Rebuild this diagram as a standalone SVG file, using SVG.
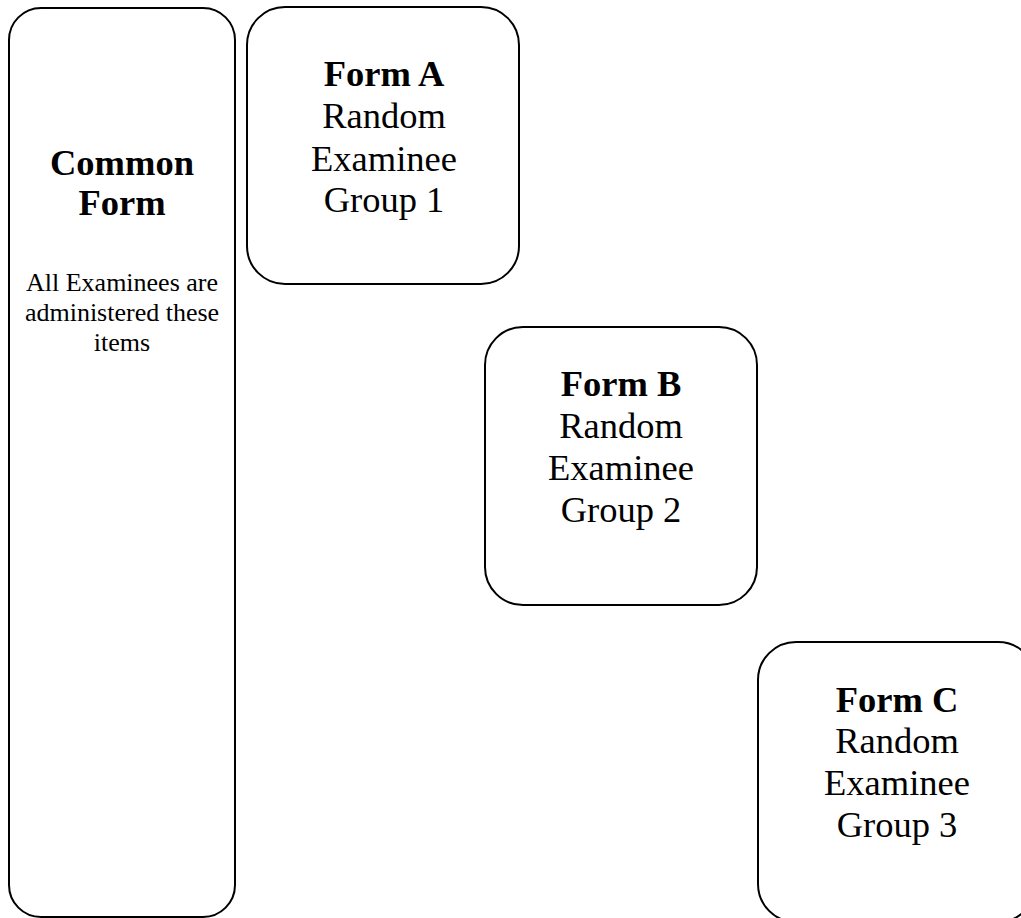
<svg xmlns="http://www.w3.org/2000/svg" width="1021" height="918" viewBox="0 0 1021 918">
<style>
.box{fill:#fff;stroke:#000;stroke-width:2}
.t{font-family:"Liberation Serif","Times New Roman",serif;fill:#000;text-anchor:middle}
.b{font-weight:bold;font-size:36.5px}
.r{font-size:36.5px}
.s{font-size:26px}
</style>
<rect width="1021" height="918" fill="#fff"/>
<g id="connectors"></g>
<g id="common">
<rect class="box" x="9" y="8" width="226" height="909" rx="32" ry="32"/>
<text class="t b" x="122" y="175">Common</text>
<text class="t b" x="122" y="215">Form</text>
<text class="t s" x="122" y="291">All Examinees are</text>
<text class="t s" x="122" y="321">administered these</text>
<text class="t s" x="122" y="351">items</text>
</g>
<g id="formA">
<rect class="box" x="247" y="7" width="272" height="277" rx="38" ry="38"/>
<text class="t b" x="384" y="86">Form A</text>
<text class="t r" x="384" y="128">Random</text>
<text class="t r" x="384" y="171">Examinee</text>
<text class="t r" x="384" y="212">Group 1</text>
</g>
<g id="formB">
<rect class="box" x="485" y="327" width="272" height="278" rx="38" ry="38"/>
<text class="t b" x="621" y="396">Form B</text>
<text class="t r" x="621" y="438">Random</text>
<text class="t r" x="621" y="480">Examinee</text>
<text class="t r" x="621" y="522">Group 2</text>
</g>
<g id="formC">
<rect class="box" x="758" y="642" width="278" height="280" rx="38" ry="38"/>
<text class="t b" x="897" y="712">Form C</text>
<text class="t r" x="897" y="753">Random</text>
<text class="t r" x="897" y="795">Examinee</text>
<text class="t r" x="897" y="837">Group 3</text>
</g>
</svg>
